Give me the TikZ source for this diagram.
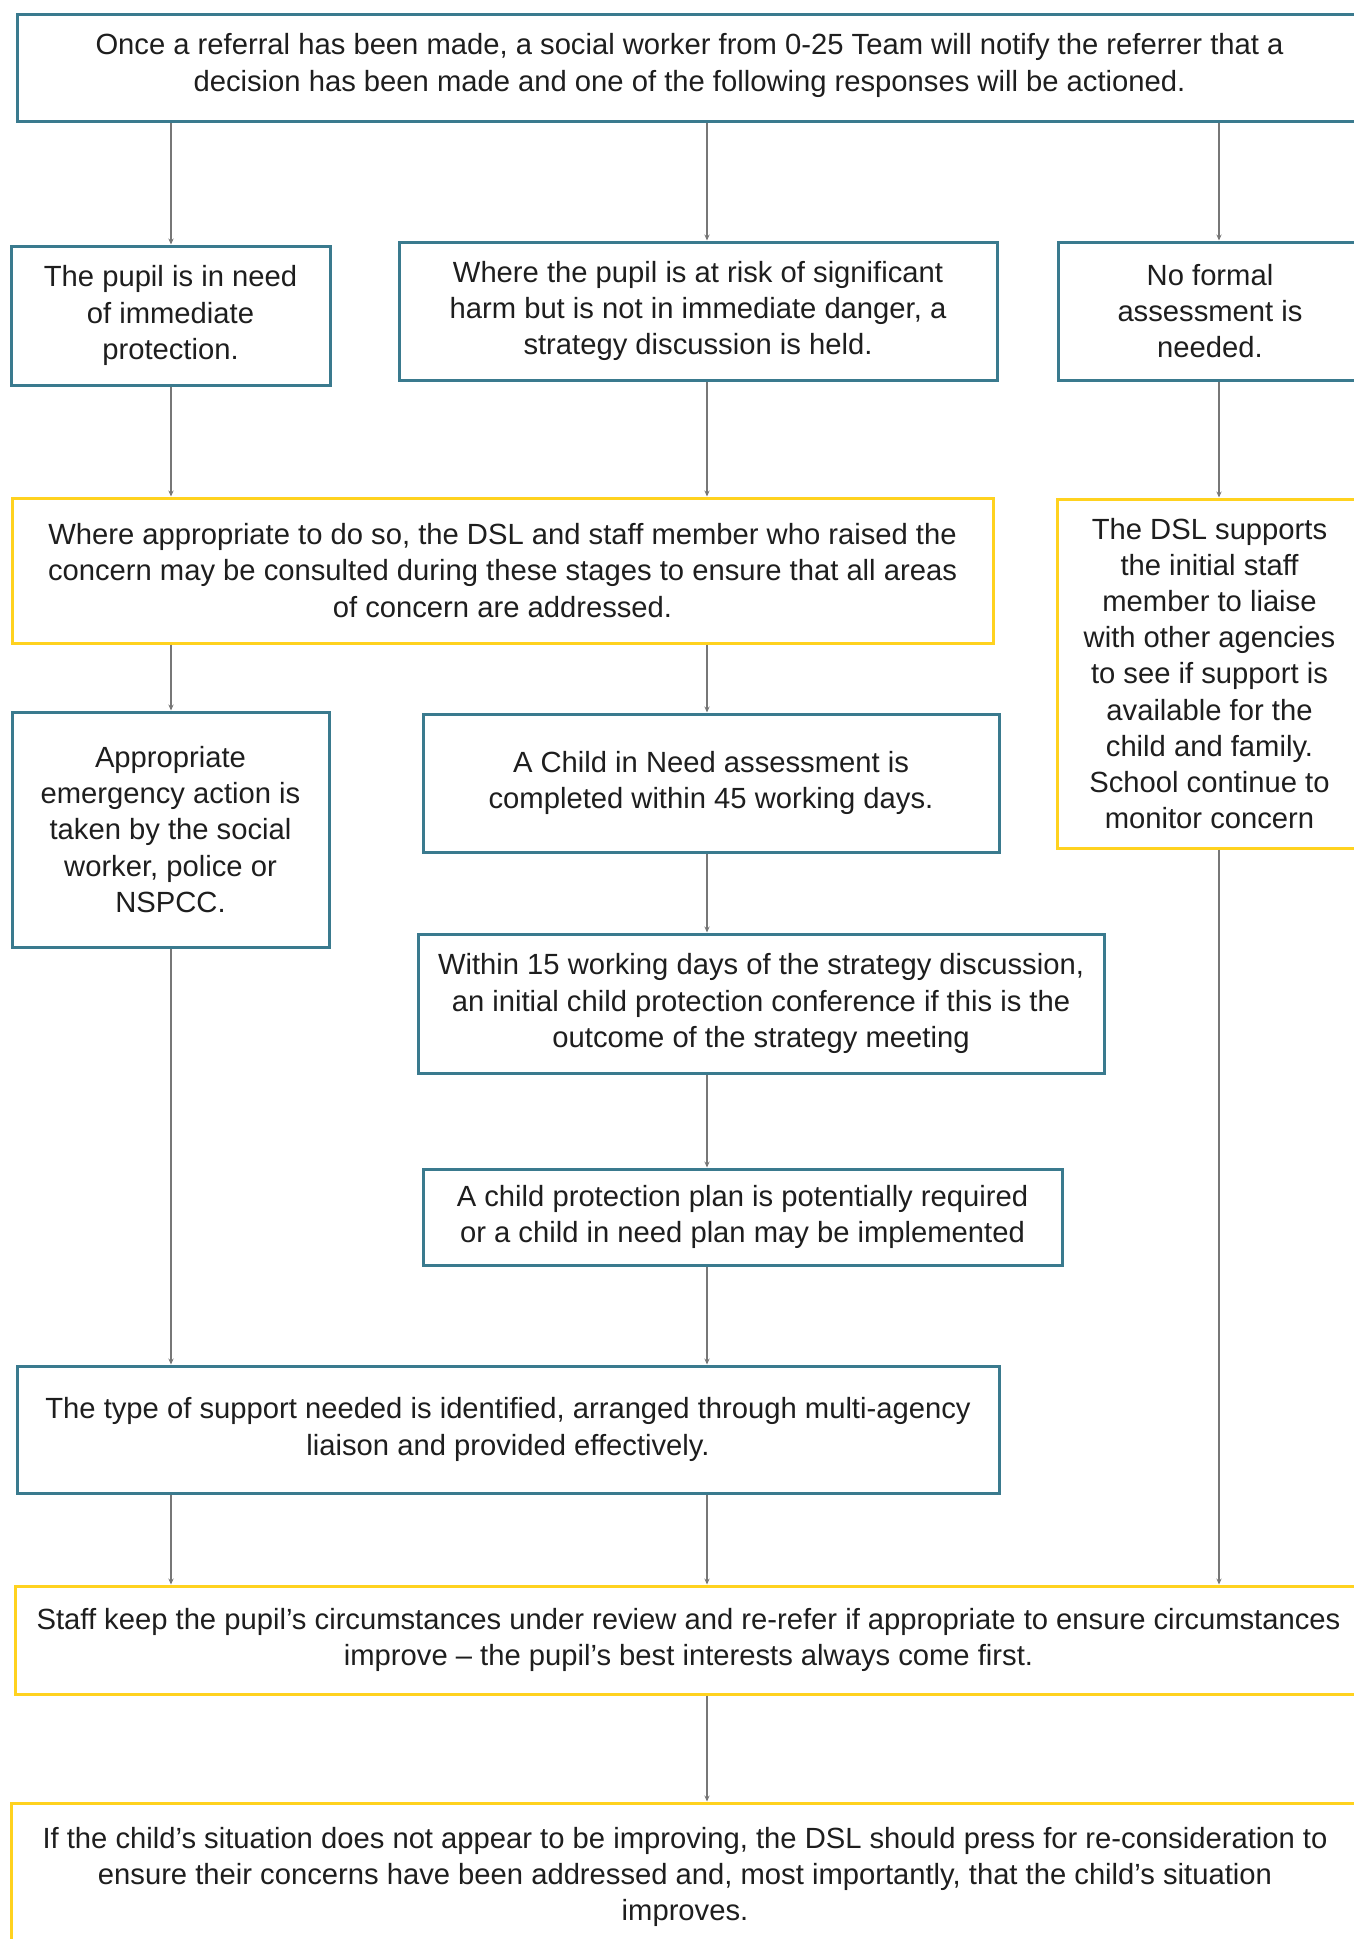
\documentclass[tikz,border=0pt]{standalone}
\usepackage{fontspec}
\setmainfont{Liberation Sans}
\usetikzlibrary{arrows.meta}
\definecolor{boxblue}{HTML}{3A7A8E}
\definecolor{boxyellow}{HTML}{FFD21F}
\definecolor{linegrey}{HTML}{777777}
\definecolor{textgrey}{HTML}{1E1E1E}
\tikzset{
  box/.style={draw, line width=1.5pt, fill=white, inner sep=0pt, align=center,
    text=textgrey, font=\fontsize{14.6pt}{18.1pt}\selectfont},
  bluebox/.style={box, draw=boxblue},
  yellowbox/.style={box, draw=boxyellow},
  link/.style={draw=linegrey, line width=0.75pt, -{Stealth[length=3pt,width=2.6pt]}}
}
\begin{document}
\begin{tikzpicture}[x=0.5pt, y=-0.5pt]
  \useasboundingbox (0,0) rectangle (1354,1939);
  \clip (0,0) rectangle (1354,1939);
  \coordinate (colL) at (171,0);
  \coordinate (colM) at (707,0);
  \coordinate (colR) at (1219,0);

  \node[bluebox, minimum width=672.5pt, minimum height=53.5pt, text depth=5pt] (referral) at (689.5,67.5)
    {Once a referral has been made, a social worker from 0-25 Team will notify the referrer that a\\
     decision has been made and one of the following responses will be actioned.};
  \node[bluebox, minimum width=159.5pt, minimum height=69.5pt] (immediate) at (170.5,315.5)
    {The pupil is in need\\ of immediate\\ protection.};
  \node[bluebox, minimum width=299pt, minimum height=69pt] (strategy) at (698,311)
    {Where the pupil is at risk of significant\\ harm but is not in immediate danger, a\\ strategy discussion is held.};
  \node[bluebox, minimum width=152pt, minimum height=69pt] (noformal) at (1210,311)
    {No formal\\ assessment is\\ needed.};
  \node[yellowbox, minimum width=490.5pt, minimum height=72.5pt] (consult) at (502.5,570.5)
    {Where appropriate to do so, the DSL and staff member who raised the\\
     concern may be consulted during these stages to ensure that all areas\\ of concern are addressed.};
  \node[yellowbox, minimum width=152.5pt, minimum height=174.5pt] (dslsupport) at (1209.5,673.5)
    {The DSL supports\\ the initial staff\\ member to liaise\\ with other agencies\\ to see if support is\\
     available for the\\ child and family.\\ School continue to\\ monitor concern};
  \node[bluebox, minimum width=158.5pt, minimum height=117.5pt] (emergency) at (170.5,829.5)
    {Appropriate\\ emergency action is\\ taken by the social\\ worker, police or\\ NSPCC.};
  \node[bluebox, minimum width=288pt, minimum height=69pt] (cin) at (711,783)
    {A Child in Need assessment is\\ completed within 45 working days.};
  \node[bluebox, minimum width=343pt, minimum height=69.5pt] (conference) at (761,1003.5)
    {Within 15 working days of the strategy discussion,\\ an initial child protection conference if this is the\\
     outcome of the strategy meeting};
  \node[bluebox, minimum width=319.5pt, minimum height=48pt] (plan) at (742.5,1217)
    {A child protection plan is potentially required\\ or a child in need plan may be implemented};
  \node[bluebox, minimum width=491pt, minimum height=63.5pt] (support) at (508,1429.5)
    {The type of support needed is identified, arranged through multi-agency\\ liaison and provided effectively.};
  \node[yellowbox, minimum width=673.5pt, minimum height=54pt] (review) at (688.5,1640)
    {Staff keep the pupil’s circumstances under review and re-refer if appropriate to ensure circumstances\\
     improve – the pupil’s best interests always come first.};
  \node[yellowbox, minimum width=674pt, minimum height=74pt] (press) at (685,1877)
    {If the child’s situation does not appear to be improving, the DSL should press for re-consideration to\\
     ensure their concerns have been addressed and, most importantly, that the child’s situation\\ improves.};

  \draw[link] (referral.south -| colL) -- (immediate.north -| colL);
  \draw[link] (referral.south -| colM) -- (strategy.north -| colM);
  \draw[link] (referral.south -| colR) -- (noformal.north -| colR);
  \draw[link] (immediate.south -| colL) -- (consult.north -| colL);
  \draw[link] (strategy.south -| colM) -- (consult.north -| colM);
  \draw[link] (noformal.south -| colR) -- (dslsupport.north -| colR);
  \draw[link] (consult.south -| colL) -- (emergency.north -| colL);
  \draw[link] (consult.south -| colM) -- (cin.north -| colM);
  \draw[link] (cin.south -| colM) -- (conference.north -| colM);
  \draw[link] (conference.south -| colM) -- (plan.north -| colM);
  \draw[link] (emergency.south -| colL) -- (support.north -| colL);
  \draw[link] (plan.south -| colM) -- (support.north -| colM);
  \draw[link] (support.south -| colL) -- (review.north -| colL);
  \draw[link] (support.south -| colM) -- (review.north -| colM);
  \draw[link] (dslsupport.south -| colR) -- (review.north -| colR);
  \draw[link] (review.south -| colM) -- (press.north -| colM);
\end{tikzpicture}
\end{document}
